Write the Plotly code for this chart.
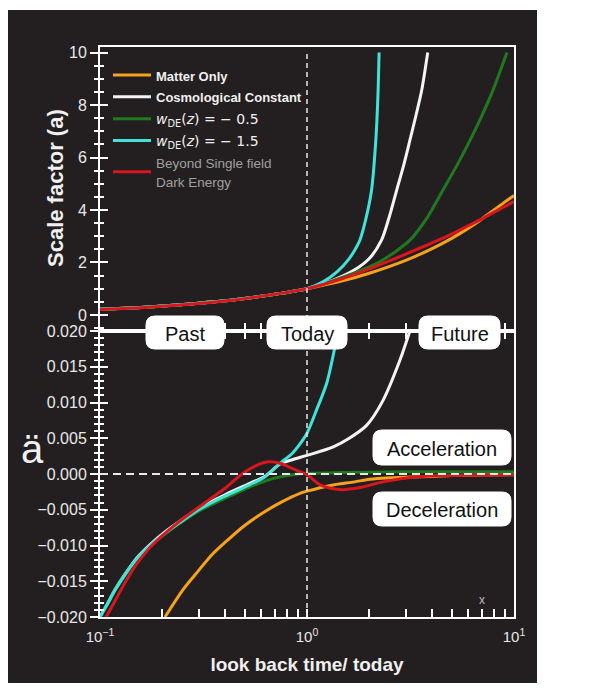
import plotly.graph_objects as go

# ---------------- data ----------------
# x: look back time / today (log axis)
# --- top panel: scale factor a ---
t_top_matter = [0.1, 0.15, 0.2, 0.3, 0.4, 0.5, 0.6, 0.7, 0.8, 0.9, 1.0, 1.5, 2.0, 3.0, 4.0, 5.0, 6.0, 7.0, 8.0, 9.0, 10.0]
a_matter = [0.22, 0.28, 0.34, 0.45, 0.54, 0.63, 0.71, 0.79, 0.86, 0.93, 1.0, 1.31, 1.59, 2.08, 2.52, 2.92, 3.30, 3.66, 4.0, 4.30, 4.55]

t_top_lcdm = [0.1, 0.15, 0.2, 0.3, 0.4, 0.5, 0.6, 0.7, 0.8, 0.9, 1.0, 1.34, 1.7, 2.0, 2.29, 2.5, 2.71, 2.93, 3.14, 3.36, 3.58, 3.83]
a_lcdm = [0.22, 0.28, 0.34, 0.45, 0.54, 0.63, 0.71, 0.79, 0.86, 0.93, 1.0, 1.33, 1.72, 2.15, 2.85, 3.75, 4.75, 5.7, 6.65, 7.6, 8.55, 10.0]

t_top_w05 = [0.1, 0.15, 0.2, 0.3, 0.4, 0.5, 0.6, 0.7, 0.8, 0.9, 1.0, 1.5, 2.25, 3.14, 3.8, 4.53, 5.3, 6.13, 7.0, 7.9, 9.25]
a_w05 = [0.22, 0.28, 0.34, 0.45, 0.54, 0.63, 0.71, 0.79, 0.86, 0.93, 1.0, 1.45, 2.03, 2.85, 3.7, 4.75, 5.7, 6.65, 7.6, 8.55, 10.0]

t_top_w15 = [0.1, 0.15, 0.2, 0.3, 0.4, 0.5, 0.6, 0.7, 0.8, 0.9, 1.0, 1.2, 1.4, 1.6, 1.7, 1.8, 1.93, 2.05, 2.15, 2.2, 2.23]
a_w15 = [0.22, 0.28, 0.34, 0.45, 0.54, 0.63, 0.71, 0.79, 0.86, 0.93, 1.0, 1.27, 1.65, 2.15, 2.47, 2.85, 3.7, 4.75, 6.65, 8.3, 10.0]

t_top_beyond = [0.1, 0.15, 0.2, 0.3, 0.4, 0.5, 0.6, 0.7, 0.8, 0.9, 1.0, 1.5, 2.0, 2.5, 3.0, 4.0, 5.0, 6.0, 7.0, 8.0, 9.0, 10.0]
a_beyond = [0.21, 0.27, 0.33, 0.44, 0.53, 0.62, 0.71, 0.79, 0.86, 0.93, 1.0, 1.40, 1.76, 2.06, 2.32, 2.74, 3.08, 3.40, 3.66, 3.92, 4.13, 4.32]

# --- bottom panel: second derivative of a ---
t_bot_matter = [0.206, 0.25, 0.288, 0.35, 0.415, 0.5, 0.6, 0.755, 0.925, 1.0, 1.3, 1.7, 1.94, 2.3, 3.0, 4.06, 5.0, 7.0, 10.0]
acc_matter = [-0.020, -0.0163, -0.0141, -0.0112, -0.0092, -0.0072, -0.0056, -0.0039, -0.0027, -0.0024,
              -0.0016, -0.0011, -0.0008, -0.0006, -0.00045, -0.00035, -0.00022, -0.00014, -0.0001]

t_bot_lcdm = [0.1, 0.108, 0.118, 0.132, 0.151, 0.174, 0.206, 0.243, 0.304, 0.402, 0.53, 0.627, 0.741, 0.85,
              1.0, 1.34, 1.6, 1.94, 2.33, 2.81, 3.14]
acc_lcdm = [-0.020, -0.0183, -0.0162, -0.0140, -0.0117, -0.0099, -0.0081, -0.0066, -0.0047, -0.0029, -0.0013,
            -0.0003, 0.0014, 0.0020, 0.0026, 0.0038, 0.0050, 0.0068, 0.0103, 0.0159, 0.0200]

t_bot_w05 = [0.1, 0.108, 0.118, 0.132, 0.151, 0.174, 0.206, 0.243, 0.304, 0.402, 0.53, 0.627, 0.741, 0.85,
             1.0, 1.5, 2.0, 3.0, 5.0, 10.0]
acc_w05 = [-0.020, -0.0184, -0.0163, -0.0141, -0.0119, -0.0101, -0.0084, -0.0069, -0.0051, -0.0034, -0.0018,
           -0.0010, -0.0004, -0.0001, 0.0001, 0.0002, 0.00025, 0.0003, 0.0003, 0.0003]

t_bot_w15 = [0.1, 0.108, 0.118, 0.132, 0.151, 0.174, 0.206, 0.243, 0.304, 0.402, 0.53, 0.627, 0.741, 0.85,
             0.925, 1.0, 1.11, 1.245, 1.365, 1.42]
acc_w15 = [-0.020, -0.0183, -0.0163, -0.0141, -0.0118, -0.0100, -0.0083, -0.0068, -0.0049, -0.0031, -0.0015,
           -0.0004, 0.0015, 0.0029, 0.0042, 0.0057, 0.0089, 0.0127, 0.0178, 0.0205]

t_bot_beyond = [0.107, 0.118, 0.132, 0.151, 0.174, 0.206, 0.243, 0.304, 0.402, 0.475, 0.561, 0.648, 0.74,
                0.846, 0.925, 1.0, 1.155, 1.3, 1.49, 1.8, 2.33, 3.39, 5.0, 10.0]
acc_beyond = [-0.020, -0.0178, -0.0152, -0.0125, -0.0103, -0.0083, -0.0066, -0.0045, -0.0020, -0.0002, 0.0011,
              0.0017, 0.0015, 0.0008, 0.0003, -0.0001, -0.0015, -0.0020, -0.0022, -0.0019, -0.0011, -0.0004,
              -0.0002, -0.0001]

series_names = [
    "<span style='font-size:13px'><b>Matter Only</b></span>",
    "<span style='font-size:13px'><b>Cosmological Constant</b></span>",
    "<span style='font-family:DejaVu Sans;font-size:14px'><i>w</i><sub>DE</sub>(<i>z</i>) = − 0.5</span>",
    "<span style='font-family:DejaVu Sans;font-size:14px'><i>w</i><sub>DE</sub>(<i>z</i>) = − 1.5</span>",
    "<span style='color:#a0a0a0;font-size:13.5px'>Beyond Single field</span><br>"
    "<span style='color:#a0a0a0;font-size:13.5px'>Dark Energy</span>",
]
series_colors = ["#F7A21B", "#F4F4F4", "#1F7A1F", "#3FE3DA", "#D9151E"]

top_t = [t_top_matter, t_top_lcdm, t_top_w05, t_top_w15, t_top_beyond]
top_a = [a_matter, a_lcdm, a_w05, a_w15, a_beyond]
bot_t = [t_bot_matter, t_bot_lcdm, t_bot_w05, t_bot_w15, t_bot_beyond]
bot_acc = [acc_matter, acc_lcdm, acc_w05, acc_w15, acc_beyond]

x_tickvals = [0.1, 0.2, 0.3, 0.4, 0.5, 0.6, 0.7, 0.8, 0.9, 1, 2, 3, 4, 5, 6, 7, 8, 9, 10]
x_ticktext = ["10<sup>−1</sup>", "", "", "", "", "", "", "", "", "10<sup>0</sup>",
              "", "", "", "", "", "", "", "", "10<sup>1</sup>"]
box_labels = ["Past", "Today", "Future", "Acceleration", "Deceleration"]

# ---------------- figure ----------------
BG = "#231F20"
FONT = "Liberation Sans, Arial, Helvetica, sans-serif"
W, H = 602, 692
L, R, T, B = 100, 88, 47, 75


def PX(px):
    return (px - L) / (W - L - R)


def PY(py):
    return (H - B - py) / (H - T - B)


SPLIT = PY(331)

fig = go.Figure()
for i in range(5):
    fig.add_trace(go.Scatter(x=top_t[i], y=top_a[i], mode="lines", name=series_names[i],
                             line=dict(color=series_colors[i], width=3, shape="spline", smoothing=0.8),
                             xaxis="x2", yaxis="y2", showlegend=True, hoverinfo="skip"))
for i in range(5):
    fig.add_trace(go.Scatter(x=bot_t[i], y=bot_acc[i], mode="lines", name=series_names[i],
                             line=dict(color=series_colors[i], width=3, shape="spline", smoothing=0.8),
                             xaxis="x", yaxis="y", showlegend=False, hoverinfo="skip"))
# empty helpers so the overlay tick axes are drawn
fig.add_trace(go.Scatter(x=[None], y=[None], xaxis="x", yaxis="y3", showlegend=False, hoverinfo="skip"))
fig.add_trace(go.Scatter(x=[None], y=[None], xaxis="x2", yaxis="y4", showlegend=False, hoverinfo="skip"))

axis_common = dict(showgrid=False, zeroline=False, tickcolor="white", tickwidth=1.5,
                   tickfont=dict(family=FONT, size=16, color="#E8E8E8"))

fig.update_layout(
    width=W, height=H,
    margin=dict(l=L, r=R, t=T, b=B),
    paper_bgcolor="white", plot_bgcolor="rgba(0,0,0,0)",
    font=dict(family=FONT, color="white"),
    xaxis=dict(type="log", range=[-1, 1], anchor="y", domain=[0, 1],
               tickvals=x_tickvals, ticktext=x_ticktext, ticks="inside", ticklen=8,
               ticklabelstandoff=5,
               showline=True, linecolor="white", linewidth=2, mirror="ticks",
               title=dict(text="<b>look back time/ today</b>", font=dict(family=FONT, size=19, color="#F0F0F0"),
                          standoff=14),
               **{**axis_common, "tickfont": dict(family=FONT, size=15, color="#E8E8E8")}),
    xaxis2=dict(type="log", range=[-1, 1], anchor="y2", matches="x",
                tickvals=x_tickvals, ticktext=[""] * len(x_tickvals), ticks="inside", ticklen=8,
                showticklabels=False, showline=True, linecolor="white", linewidth=2, mirror=True,
                **axis_common),
    yaxis=dict(domain=[0, SPLIT], range=[-0.02, 0.02], anchor="x",
               tickvals=[-0.02, -0.015, -0.01, -0.005, 0, 0.005, 0.01, 0.015, 0.02], tickformat=".3f",
               ticks="outside", ticklen=8, showline=True, linecolor="white", linewidth=2, mirror=True,
               minor=dict(ticks="outside", ticklen=4, dtick=0.001, tick0=0, tickcolor="white", showgrid=False),
               **axis_common),
    yaxis3=dict(overlaying="y", anchor="x", side="left", range=[-0.02, 0.02],
                tickvals=[-0.02, -0.015, -0.01, -0.005, 0, 0.005, 0.01, 0.015, 0.02],
                ticks="inside", ticklen=8, showticklabels=False, showline=False,
                minor=dict(ticks="inside", ticklen=4, dtick=0.001, tick0=0, tickcolor="white", showgrid=False),
                **axis_common),
    yaxis2=dict(domain=[SPLIT, 1], range=[-0.61, 10.21], anchor="x2",
                tickvals=[0, 2, 4, 6, 8, 10], ticks="outside", ticklen=8,
                showline=True, linecolor="white", linewidth=2, mirror=True,
                minor=dict(ticks="outside", ticklen=4, dtick=0.5, tick0=0, tickcolor="white", showgrid=False),
                **axis_common),
    yaxis4=dict(overlaying="y2", anchor="x2", side="left", range=[-0.61, 10.21],
                tickvals=[0, 2, 4, 6, 8, 10], ticks="inside", ticklen=8, showticklabels=False, showline=False,
                minor=dict(ticks="inside", ticklen=4, dtick=0.5, tick0=0, tickcolor="white", showgrid=False),
                **axis_common),
    legend=dict(x=PX(108), y=PY(59), xanchor="left", yanchor="top", bgcolor="rgba(0,0,0,0)",
                font=dict(family=FONT, size=14.5, color="#F0F0F0"), itemwidth=38, tracegroupgap=0,
                traceorder="normal"),
    showlegend=True,
)

shapes = []
# dark backdrop
shapes.append(dict(type="rect", xref="paper", yref="paper", x0=PX(8), x1=PX(537), y0=PY(683), y1=PY(10),
                   fillcolor=BG, line=dict(width=0), layer="below"))
# dashed "today" line and zero line
shapes.append(dict(type="line", xref="paper", yref="paper", x0=0.5, x1=0.5, y0=0, y1=PY(53),
                   line=dict(color="#E8E8E8", width=1.5, dash="5px,4px")))
shapes.append(dict(type="line", xref="paper", yref="y", x0=0, x1=1, y0=0, y1=0,
                   line=dict(color="#E8E8E8", width=2, dash="8px,5px")))


def rbox(x0, y0, x1, y1, r=9):
    rx = r / (W - L - R)
    ry = r / (H - T - B)
    X0, X1, Y0, Y1 = PX(x0), PX(x1), PY(y0), PY(y1)
    path = (f"M {X0+rx},{Y0} L {X1-rx},{Y0} Q {X1},{Y0} {X1},{Y0-ry} "
            f"L {X1},{Y1+ry} Q {X1},{Y1} {X1-rx},{Y1} L {X0+rx},{Y1} Q {X0},{Y1} {X0},{Y1+ry} "
            f"L {X0},{Y0-ry} Q {X0},{Y0} {X0+rx},{Y0} Z")
    return dict(type="path", xref="paper", yref="paper", path=path, fillcolor="white",
                line=dict(color="white", width=1), layer="above")


boxes = [(146, 316, 224, 349), (267, 316, 347, 349), (419, 316, 500, 349),
         (373, 430, 511, 465), (373, 492, 511, 526)]
for bx in boxes:
    shapes.append(rbox(*bx))
fig.update_layout(shapes=shapes)

annotations = []
for label, (x0, y0, x1, y1) in zip(box_labels, boxes):
    annotations.append(dict(xref="paper", yref="paper", x=PX((x0 + x1) / 2), y=PY((y0 + y1) / 2 + 1),
                            text=label, showarrow=False, xanchor="center", yanchor="middle",
                            font=dict(family=FONT, size=20, color="#111111")))
annotations.append(dict(xref="paper", yref="paper", x=PX(55), y=PY(188), text="<b>Scale factor (a)</b>",
                        textangle=-90, showarrow=False, xanchor="center", yanchor="middle",
                        font=dict(family=FONT, size=22, color="#F0F0F0")))
annotations.append(dict(xref="paper", yref="paper", x=PX(32), y=PY(449), text="ä",
                        showarrow=False, xanchor="center", yanchor="middle",
                        font=dict(family=FONT, size=40, color="#F0F0F0")))
annotations.append(dict(xref="paper", yref="paper", x=PX(482), y=PY(600), text="x",
                        showarrow=False, xanchor="center", yanchor="middle",
                        font=dict(family=FONT, size=12, color="#BBBBBB")))
fig.update_layout(annotations=annotations)

fig.write_html("out.html", config={"displayModeBar": False},
               post_script="document.body.style.margin='0';")
